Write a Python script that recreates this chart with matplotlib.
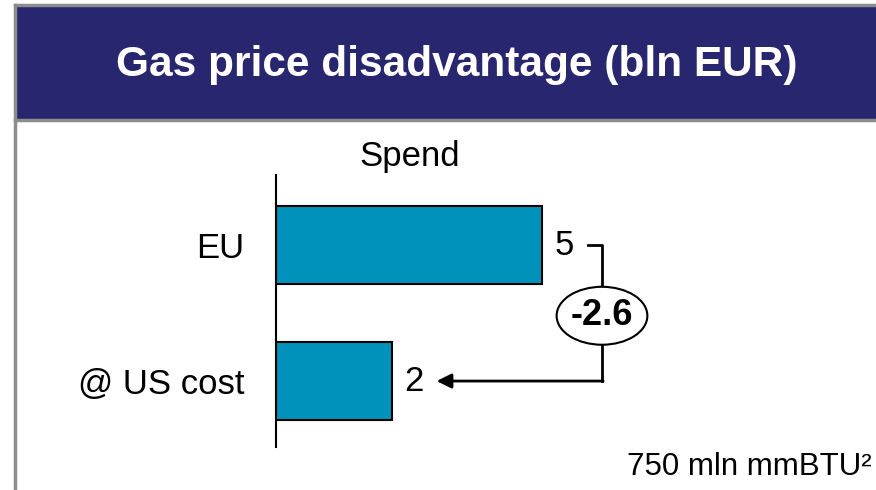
#Gas price disadvantage - horizontal bar chart with difference callout
import matplotlib
matplotlib.use('Agg')
import matplotlib.pyplot as plt
from matplotlib.patches import Rectangle, Ellipse

plt.rcParams['font.family']=['Liberation Sans','DejaVu Sans']

#Data
categories=['@ US cost','EU']
spend=[2.0,4.6]
value_labels=['2','5']
difference=-2.6
title='Gas price disadvantage (bln EUR)'
column_title='Spend'
footnote='750 mln mmBTU²'

W,H=876,490
navy='#27266e'
bar_color='#0092ba'
frame_grey='#8c8c8c'

fig=plt.figure(figsize=(W/100,H/100),dpi=100)

#helper: pixel position -> figure fraction
def px(x,y):
	return x/W,1-y/H

#Frame and title banner
fig.patches.append(Rectangle(px(15,120),(W-15)/W,115/H,transform=fig.transFigure,facecolor=navy,edgecolor='none',zorder=0))
fig.add_artist(plt.Line2D([15/W,1],[1-5/H,1-5/H],color=frame_grey,lw=2.5))
fig.add_artist(plt.Line2D([15/W,1],[1-120/H,1-120/H],color=frame_grey,lw=2.5))
fig.add_artist(plt.Line2D([15/W,15/W],[0,1-5/H],color=frame_grey,lw=2.5))
fig.text(*px(457,65),title,color='white',fontsize=30.5,fontweight='bold',ha='center',va='center')

#Bar axes
x0,y_top,y_bot=276,175,447
scale=57.8
ax=fig.add_axes([x0/W,1-y_bot/H,(W-x0)/W,(y_bot-y_top)/H])
ax.set_xlim(0,(W-x0)/scale)
ax.set_ylim(-0.485,1.515)
ypos=list(range(len(categories)))
ax.barh(ypos,spend,height=0.57,color=bar_color,edgecolor='black',linewidth=1.5)
for s in ['top','right','bottom']:
	ax.spines[s].set_visible(False)
ax.spines['left'].set_linewidth(1.5)
ax.set_xticks([])
ax.set_yticks(ypos)
ax.set_yticklabels(categories,fontsize=25)
ax.tick_params(axis='y',length=0,pad=23)
ax.patch.set_alpha(0)

#Value labels
for y,v,l in zip(ypos,spend,value_labels):
	ax.text(v+0.22,y,l,fontsize=25,ha='left',va='center')

#Difference callout
cx=spend[1]+1.04
cy=0.48
ax.plot([spend[1]+0.8,cx,cx],[1,1,cy+0.213],color='black',lw=2)
ax.plot([cx,cx],[cy-0.213,ypos[0]],color='black',lw=2)
ax.annotate('',xy=(spend[0]+0.78,ypos[0]),xytext=(cx+0.02,ypos[0]),
	arrowprops=dict(arrowstyle='-|>',color='black',lw=2,mutation_scale=22,shrinkA=0,shrinkB=0))
ax.add_patch(Ellipse((cx,cy),1.57,0.426,facecolor='white',edgecolor='black',lw=1.5,zorder=3))
ax.text(cx,cy,'%.1f'%difference,fontsize=26,fontweight='bold',ha='center',va='center',zorder=4)

#Column title and footnote
fig.text(*px(410,156),column_title,fontsize=25,ha='center',va='center')
fig.text(*px(872,467),footnote,fontsize=22.5,ha='right',va='center')

plt.savefig('out.png',dpi=100)
